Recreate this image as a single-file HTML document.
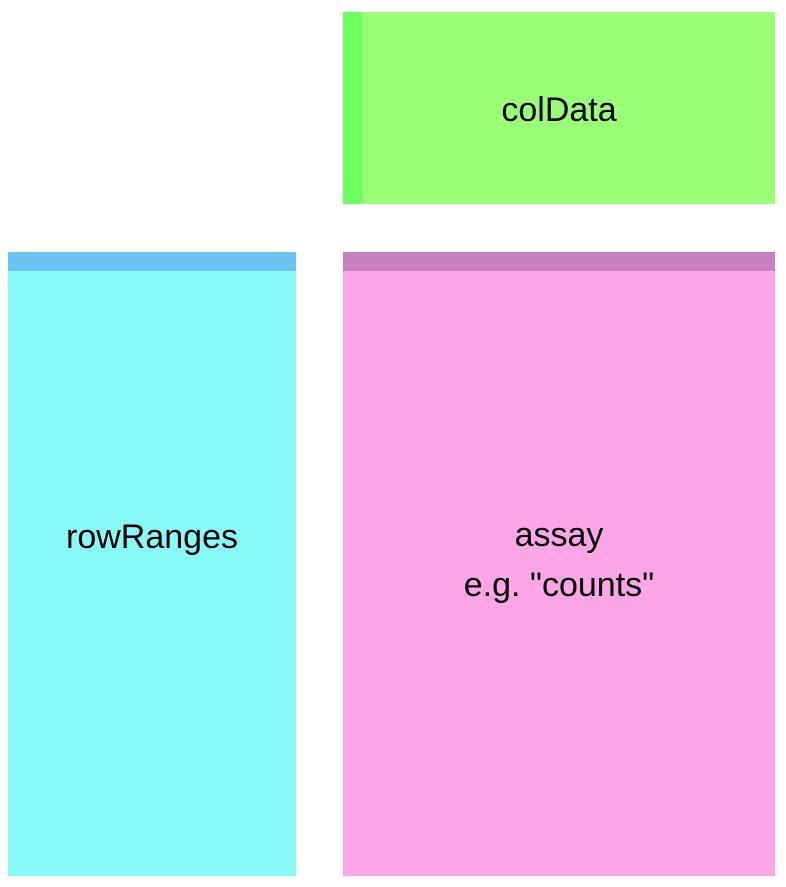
<!DOCTYPE html>
<html><head><meta charset="utf-8"><style>
body{margin:0;width:786px;height:887px;background:#fff;position:relative;overflow:hidden;font-family:"Liberation Sans",sans-serif;}
.b{position:absolute;}
.t{position:absolute;left:0;right:0;text-align:center;font-size:34px;line-height:38px;color:#000;}
</style></head><body>
<div class="b" style="left:343px;top:12px;width:432px;height:192px;background:#99ff77;">
  <div class="b" style="left:0;top:0;width:19px;height:192px;background:#6dff5d;"></div>
  <div class="t" style="top:79px;">colData</div>
</div>
<div class="b" style="left:8px;top:252px;width:288px;height:624px;background:#88fbf8;">
  <div class="b" style="left:0;top:0;width:288px;height:19px;background:#68c3ee;"></div>
  <div class="t" style="top:266px;">rowRanges</div>
</div>
<div class="b" style="left:343px;top:252px;width:432px;height:624px;background:#fca6e8;">
  <div class="b" style="left:0;top:0;width:432px;height:19px;background:#c880c0;"></div>
  <div class="t" style="top:264px;">assay</div>
  <div class="t" style="top:314px;">e.g. "counts"</div>
</div>
</body></html>
